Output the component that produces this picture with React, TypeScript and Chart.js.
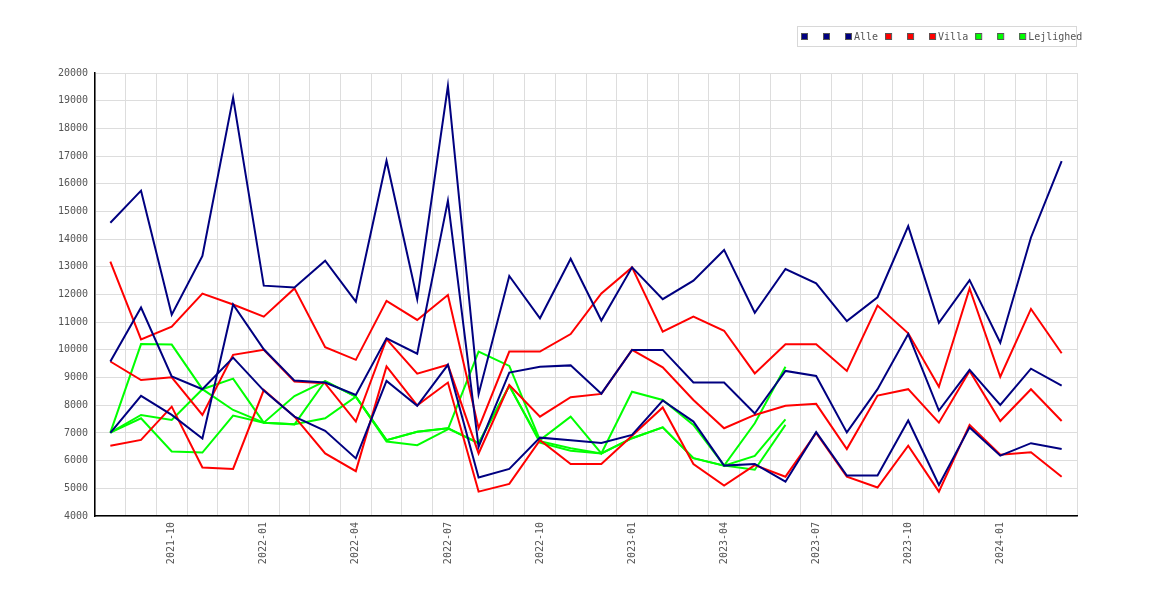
import React, { useEffect, useRef } from "react";
import { Chart, registerables } from "chart.js";

Chart.register(...registerables);

const months: string[] = [
  "2021-08", "2021-09", "2021-10", "2021-11", "2021-12",
  "2022-01", "2022-02", "2022-03", "2022-04", "2022-05", "2022-06", "2022-07",
  "2022-08", "2022-09", "2022-10", "2022-11", "2022-12",
  "2023-01", "2023-02", "2023-03", "2023-04", "2023-05", "2023-06", "2023-07",
  "2023-08", "2023-09", "2023-10", "2023-11", "2023-12",
  "2024-01", "2024-02", "2024-03",
];

const alleA: number[] = [14590, 15750, 11270, 13390, 19110, 12320, 12250, 13220, 11740, 16830, 11830, 19530, 8400, 12670, 11140, 13290, 11060, 12980, 11830, 12500, 13610, 11340, 12920, 12400, 11040, 11900, 14470, 10980, 12520, 10260, 14060, 16820];
const alleB: number[] = [7000, 8340, 7650, 6800, 11640, 10020, 8890, 8820, 8370, 10420, 9860, 15390, 6500, 9180, 9390, 9440, 8420, 10000, 10000, 8820, 8820, 7700, 9240, 9060, 7020, 8580, 10570, 7810, 9280, 8010, 9320, 8710];
const alleC: number[] = [9580, 11530, 9040, 8580, 9720, 8530, 7590, 7080, 6080, 8880, 7980, 9460, 5390, 5700, 6830, 6740, 6640, 6930, 8170, 7410, 5820, 5880, 5240, 7030, 5460, 5460, 7450, 5120, 7200, 6180, 6630, 6420];

const villaA: number[] = [13190, 10380, 10840, 12030, 11640, 11200, 12220, 10100, 9640, 11770, 11080, 11980, 7170, 9940, 9940, 10570, 12040, 12980, 10660, 11200, 10690, 9150, 10200, 10200, 9240, 11600, 10600, 8670, 12220, 9030, 11480, 9880];
const villaB: number[] = [9580, 8910, 9010, 7650, 9820, 10000, 8860, 8790, 7410, 10390, 9140, 9460, 6260, 8730, 7590, 8290, 8410, 10000, 9370, 8190, 7170, 7650, 7980, 8050, 6420, 8350, 8580, 7370, 9240, 7430, 8580, 7430];
const villaC: number[] = [6540, 6750, 7950, 5750, 5700, 8550, 7590, 6260, 5620, 9400, 8000, 8820, 4880, 5160, 6740, 5880, 5880, 6900, 7920, 5880, 5100, 5840, 5420, 7000, 5420, 5030, 6540, 4880, 7290, 6210, 6300, 5420];

const lejA: number[] = [7010, 10210, 10190, 8580, 7830, 7370, 8330, 8870, 8310, 6690, 6560, 7130, 9940, 9420, 6740, 7590, 6260, 8490, 8190, 7290, 5820, 7350, 9390];
const lejB: number[] = [7010, 7650, 7470, 8580, 8960, 7370, 7310, 8870, 8310, 6740, 7040, 7170, 6630, 8700, 6700, 6450, 6260, 6810, 7200, 6090, 5820, 6170, 7490];
const lejC: number[] = [7010, 7530, 6330, 6290, 7630, 7370, 7310, 7530, 8310, 6740, 7040, 7170, 6630, 8700, 6650, 6360, 6260, 6810, 7200, 6090, 5820, 5670, 7290];

const quarterMonths: string[] = ["01", "04", "07", "10"];

const NAVY = "#000080";
const RED = "#ff0000";
const GREEN = "#00ff00";
const TEXT = "#555555";
const FONT_FAMILY = '"DejaVu Sans Mono", monospace';

const legendBox = {
  id: "legendBox",
  afterDraw(chart: any) {
    const ctx = chart.ctx;
    const area = chart.chartArea;
    const left = area.right - 280;
    const top = area.top - 47;
    ctx.save();
    ctx.strokeStyle = "#d8d8d8";
    ctx.lineWidth = 1;
    ctx.strokeRect(left + 0.5, top + 0.5, 279, 20);
    ctx.font = "10px " + FONT_FAMILY;
    ctx.textBaseline = "middle";
    ctx.textAlign = "left";
    const cy = top + 10;
    let x = left + 4;
    chart.data.datasets.forEach((ds: any) => {
      ctx.fillStyle = ds.borderColor;
      ctx.fillRect(x, cy - 3, 6, 6);
      ctx.strokeStyle = "#555";
      ctx.strokeRect(x + 0.5, cy - 3 + 0.5, 6, 6);
      if (ds.label) {
        ctx.fillStyle = TEXT;
        ctx.fillText(ds.label, x + 9, cy + 1);
        x += 9 + ctx.measureText(ds.label).width + 7;
      } else {
        x += 22;
      }
    });
    ctx.restore();
  },
};

function line(label: string, data: number[], color: string) {
  return {
    label,
    data,
    borderColor: color,
    backgroundColor: color,
    borderWidth: 2,
    pointRadius: 0,
    pointHoverRadius: 0,
    tension: 0,
    fill: false,
  };
}

export default function App() {
  const ref = useRef<HTMLCanvasElement | null>(null);

  useEffect(() => {
    document.body.style.margin = "0";
    const canvas = ref.current;
    if (!canvas) return;
    const chart = new Chart(canvas, {
      type: "line",
      data: {
        labels: months,
        datasets: [
          line("", alleA, NAVY),
          line("", alleB, NAVY),
          line("Alle", alleC, NAVY),
          line("", villaA, RED),
          line("", villaB, RED),
          line("Villa", villaC, RED),
          line("", lejA, GREEN),
          line("", lejB, GREEN),
          line("Lejlighed", lejC, GREEN),
        ],
      },
      options: {
        animation: false,
        responsive: false,
        devicePixelRatio: 1,
        layout: { padding: { left: 0, top: 73, right: 93, bottom: 0 } },
        plugins: {
          legend: { display: false },
          tooltip: { enabled: false },
        },
        scales: {
          x: {
            type: "category",
            offset: true,
            grid: { offset: true, color: "#dddddd", lineWidth: 1, drawTicks: false },
            border: { color: "#000000", width: 1.5 },
            ticks: {
              autoSkip: false,
              maxRotation: 90,
              minRotation: 90,
              padding: 6,
              color: TEXT,
              font: { family: FONT_FAMILY, size: 10 },
              callback: function (this: any, _v: any, index: number) {
                const m = months[index];
                return quarterMonths.includes(m.slice(5)) ? m : "";
              },
            },
            afterFit: (scale: any) => {
              scale.height = 84;
            },
          },
          y: {
            min: 4000,
            max: 20000,
            grid: { color: "#dddddd", lineWidth: 1, drawTicks: false },
            border: { color: "#000000", width: 1.5 },
            ticks: {
              stepSize: 1000,
              padding: 7,
              color: TEXT,
              font: { family: FONT_FAMILY, size: 10 },
              callback: (v: any) => String(v),
            },
            afterFit: (scale: any) => {
              scale.width = 95;
            },
          },
        },
      },
      plugins: [legendBox],
    });
    return () => chart.destroy();
  }, []);

  return (
    <div style={{ width: 1170, height: 600, background: "#fff" }}>
      <canvas ref={ref} width={1170} height={600} style={{ display: "block" }} />
    </div>
  );
}
